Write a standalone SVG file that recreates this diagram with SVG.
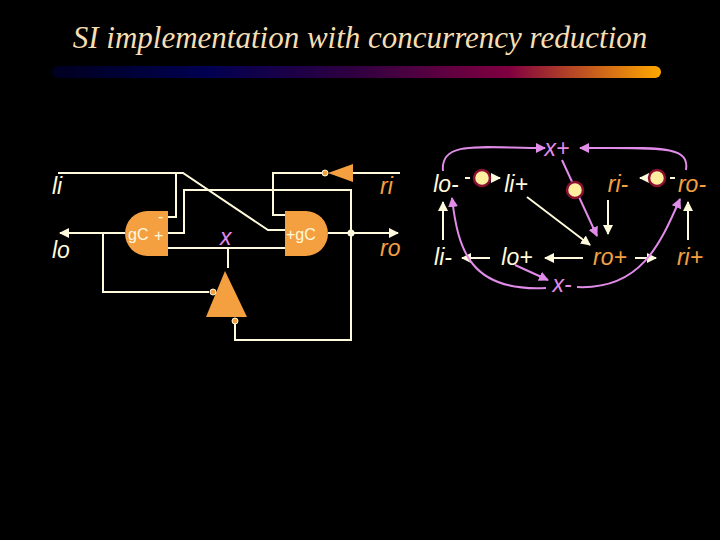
<svg xmlns="http://www.w3.org/2000/svg" width="720" height="540" viewBox="0 0 720 540">
<defs>
<linearGradient id="bar" x1="0" x2="1" y1="0" y2="0">
<stop offset="0" stop-color="#000020"/><stop offset="0.25" stop-color="#000050"/><stop offset="0.5" stop-color="#300040"/><stop offset="0.75" stop-color="#800040"/><stop offset="1" stop-color="#ffa800"/>
</linearGradient>
<marker id="aw" viewBox="0 0 10 10" refX="9" refY="5" markerWidth="5" markerHeight="5" orient="auto"><path d="M0,0L10,5L0,10z" fill="#fffadc"/></marker>
<marker id="ap" viewBox="0 0 10 10" refX="9" refY="5" markerWidth="5" markerHeight="5" orient="auto"><path d="M0,0L10,5L0,10z" fill="#e08ce8"/></marker>
</defs>
<style>
.w{stroke:#fffadc;stroke-width:2;fill:none}
.p{stroke:#e08ce8;stroke-width:2;fill:none}
.g{fill:#f5a040}
.t{font-family:"Liberation Sans",Arial,sans-serif;font-style:italic;font-size:23px}
.wh{fill:#fffadc}.or{fill:#f5a040}.pk{fill:#e08ce8}
.tok{fill:#fff0a0;stroke:#8a1030;stroke-width:2.5}
.gl{font-family:"Liberation Sans",Arial,sans-serif;font-size:16px;fill:#fffadc}
</style>
<rect width="720" height="540" fill="#000"/>
<text x="360" y="48" text-anchor="middle" font-family="Liberation Serif,serif" font-style="italic" font-size="31" fill="#f5deb3">SI implementation with concurrency reduction</text>
<rect x="52" y="66" width="609" height="12" rx="6" fill="url(#bar)"/>
<g id="connectors">
<path class="w" d="M58,173H183L268,230H285"/>
<path class="w" d="M176,173V217H168"/>
<path class="w" d="M168,233H184V190H351V340H235V322"/>
<path class="w" d="M168,248H285"/>
<path class="w" d="M228,248V268"/>
<path class="w" d="M125,233H60" marker-end="url(#aw)"/>
<path class="w" d="M103,233V292H209"/>
<path class="w" d="M328,233H398" marker-end="url(#aw)"/>
<circle cx="351" cy="233" r="3.5" fill="#fffadc"/>
<path class="w" d="M353,173H400"/>
<path class="w" d="M322,173H273V215H285"/>
<path class="w" d="M465,178H470M490,178H500" marker-end="url(#aw)"/>
<path class="w" d="M675,178H670M648,178H640" marker-end="url(#aw)"/>
<path class="w" d="M527,197L590,245" marker-end="url(#aw)"/>
<path class="w" d="M608,200V234" marker-end="url(#aw)"/>
<path class="w" d="M583,258H545" marker-end="url(#aw)"/>
<path class="w" d="M490,258H462" marker-end="url(#aw)"/>
<path class="w" d="M635,258H656" marker-end="url(#aw)"/>
<path class="w" d="M443,240V202" marker-end="url(#aw)"/>
<path class="w" d="M688,240V202" marker-end="url(#aw)"/>
<path class="p" d="M443,171C440,140 480,148 545,148" marker-end="url(#ap)"/>
<path class="p" d="M686,170C690,145 660,148 580,148" marker-end="url(#ap)"/>
<path class="p" d="M562,160L597,236" marker-end="url(#ap)"/>
<path class="p" d="M515,265L548,280" marker-end="url(#ap)"/>
<path class="p" d="M577,287C640,290 660,245 680,199" marker-end="url(#ap)"/>
<path class="p" d="M546,288C470,292 458,250 452,198" marker-end="url(#ap)"/>
</g>
<g id="gate1"><path class="g" d="M168,211V256H147.5A22.5,22.5 0 0 1 147.5,211Z"/><text x="128" y="240" class="gl">gC</text><text x="158" y="222" class="gl">-</text><text x="154" y="241" class="gl">+</text></g>
<g id="gate2"><path class="g" d="M285,211V256H305.5A22.5,22.5 0 0 0 305.5,211Z"/><text x="286" y="240" class="gl">+gC</text></g>
<g id="inv-ri"><path class="g" d="M328,173L353,164V182Z"/><circle cx="325" cy="173" r="3" fill="#f5a040" stroke="#fffadc"/></g>
<g id="inv-x"><path class="g" d="M225,271L206,317H247Z"/><circle cx="213" cy="292" r="3" fill="#f5a040" stroke="#fffadc"/><circle cx="235" cy="321" r="3" fill="#f5a040" stroke="#fffadc"/></g>
<g id="labels">
<text x="52" y="194" class="t wh">li</text><text x="52" y="258" class="t wh">lo</text>
<text x="380" y="194" class="t or">ri</text><text x="380" y="256" class="t or">ro</text>
<text x="220" y="245" class="t pk">x</text>
</g>
<g id="stg">
<circle cx="482" cy="178" r="8" class="tok"/><circle cx="575" cy="190" r="8" class="tok"/><circle cx="657" cy="178" r="8" class="tok"/>
<text x="557" y="156" class="t pk" text-anchor="middle">x+</text>
<text x="446" y="192" class="t wh" text-anchor="middle">lo-</text>
<text x="516" y="192" class="t wh" text-anchor="middle">li+</text>
<text x="618" y="192" class="t or" text-anchor="middle">ri-</text>
<text x="692" y="192" class="t or" text-anchor="middle">ro-</text>
<text x="443" y="265" class="t wh" text-anchor="middle">li-</text>
<text x="517" y="265" class="t wh" text-anchor="middle">lo+</text>
<text x="610" y="265" class="t or" text-anchor="middle">ro+</text>
<text x="690" y="265" class="t or" text-anchor="middle">ri+</text>
<text x="562" y="292" class="t pk" text-anchor="middle">x-</text>
</g>
</svg>
